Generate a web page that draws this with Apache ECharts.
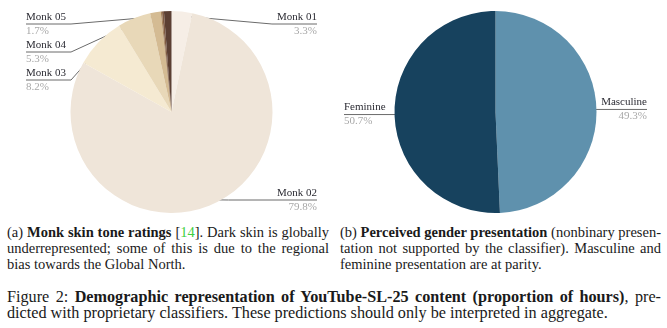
<!DOCTYPE html>
<html>
<head>
<meta charset="utf-8">
<script src="https://cdn.jsdelivr.net/npm/echarts@6/dist/echarts.min.js"></script>
<style>
  html, body { margin: 0; padding: 0; background: #fff; }
  #wrap { position: relative; width: 667px; height: 328px; overflow: hidden; }
  #chart { position: absolute; left: 0; top: 0; width: 667px; height: 220px; }
  .cap { position: absolute; font-family: 'Liberation Serif', 'Times New Roman', serif; color: #1a1a1a; }
  .cap div { white-space: nowrap; }
  .cap .j { text-align: justify; text-align-last: justify; white-space: normal; }
  .sub { font-size: 14.5px; line-height: 16px; top: 224px; }
  .fig { font-size: 16.2px; line-height: 16px; top: 289px; left: 7px; width: 654px; }
  .cite { color: #3fcf3f; }
</style>
</head>
<body>
<div id="wrap">
  <div id="chart"></div>
  <div class="cap sub" style="left:7px; width:322px;">
    <div class="j">(a) <b>Monk skin tone ratings</b> [<span class="cite">14</span>]. Dark skin is globally</div>
    <div class="j">underrepresented; some of this is due to the regional</div>
    <div>bias towards the Global North.</div>
  </div>
  <div class="cap sub" style="left:340px; width:321px;">
    <div class="j">(b) <b>Perceived gender presentation</b> (nonbinary presen-</div>
    <div class="j">tation not supported by the classifier). Masculine and</div>
    <div>feminine presentation are at parity.</div>
  </div>
  <div class="cap fig">
    <div class="j">Figure 2: <b>Demographic representation of YouTube-SL-25 content (proportion of hours)</b>, pre-</div>
    <div>dicted with proprietary classifiers. These predictions should only be interpreted in aggregate.</div>
  </div>
</div>
<script>
// Share of hours per Monk skin tone bucket (percent)
const monkNames = ['Monk 01', 'Monk 02', 'Monk 03', 'Monk 04', 'Monk 05', 'Monk 06', 'Monk 07', 'Monk 08'];
const monkShares = [3.3, 79.8, 8.2, 5.3, 1.7, 0.2, 0.3, 1.2];
const monkColors = ['#f6eee6', '#efe5d9', '#f5ead2', '#e8d8b8', '#d4bb93', '#a5825a', '#7e5a42', '#5b3f33'];

// Share of hours per perceived gender presentation (percent)
const genderNames = ['Masculine', 'Feminine'];
const genderShares = [49.3, 50.7];
const genderColors = ['#5f91ad', '#17425e'];

const serif = "'Liberation Serif', 'Times New Roman', serif";
const PIE_TOP = 10, PIE_HEIGHT = 204, PIE_R = 101;
const boxes = [
  { left: 26, width: 291, labelWidth: null },
  { left: 344, width: 303, labelWidth: 46 }
];

const chart = echarts.init(document.getElementById('chart'), null, { renderer: 'canvas' });

function pieSeries(idx, names, values, colors) {
  const box = boxes[idx];
  const cx = box.left + box.width / 2;
  const cy = PIE_TOP + PIE_HEIGHT / 2;
  const label = {
    alignTo: 'edge',
    edgeDistance: 0,
    minMargin: 0,
    lineHeight: 14,
    overflow: 'none',
    formatter: '{name|{b}}\n{pct|{c}%}',
    rich: {
      name: { fontSize: 11, fontFamily: serif, color: '#2b2b33', lineHeight: 14 },
      pct: { fontSize: 11, fontFamily: serif, color: '#a8a8a8', lineHeight: 14 }
    }
  };
  if (box.labelWidth) label.width = box.labelWidth;
  return {
    type: 'pie',
    left: box.left,
    top: PIE_TOP,
    width: box.width,
    height: PIE_HEIGHT,
    center: ['50%', '50%'],
    radius: PIE_R,
    startAngle: 90,
    clockwise: true,
    minShowLabelAngle: 5,
    avoidLabelOverlap: true,
    silent: true,
    itemStyle: { borderWidth: 0 },
    label,
    labelLine: {
      show: true,
      length: 15,
      length2: 0,
      maxSurfaceAngle: 80,
      lineStyle: { color: '#6b6b6b', width: 1 }
    },
    labelLayout(params) {
      const pts = params.labelLinePoints;
      if (!pts) return {};
      const rect = params.labelRect;
      const isLeft = rect.x + rect.width / 2 < cx;
      pts[2][0] = isLeft ? rect.x : rect.x + rect.width;
      // pull the start of the leader a little inside the rim
      const dx = pts[0][0] - cx, dy = pts[0][1] - cy;
      const len = Math.hypot(dx, dy) || 1;
      pts[0][0] -= dx / len * 4.5;
      pts[0][1] -= dy / len * 4.5;
      return { labelLinePoints: pts };
    },
    data: names.map((n, i) => ({ name: n, value: values[i], itemStyle: { color: colors[i] } }))
  };
}

chart.setOption({
  animation: false,
  series: [
    pieSeries(0, monkNames, monkShares, monkColors),
    pieSeries(1, genderNames, genderShares, genderColors)
  ]
});
</script>
</body>
</html>
